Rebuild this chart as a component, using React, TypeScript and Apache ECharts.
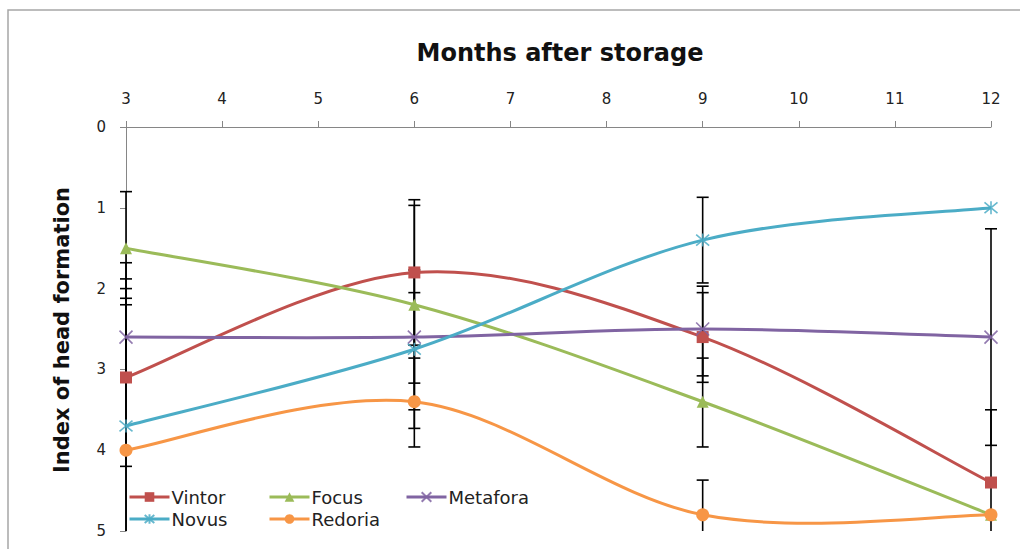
import React, { useEffect, useRef } from "react";
import * as echarts from "echarts";

const months = [3, 6, 9, 12];
const seriesNames = ["Vintor", "Focus", "Metafora", "Novus", "Redoria"];

const vintor = [3.1, 1.8, 2.6, 4.4];
const focus = [1.5, 2.2, 3.4, 4.8];
const metafora = [2.6, 2.6, 2.5, 2.6];
const novus = [3.7, 2.75, 1.4, 1.0];
const redoria = [4.0, 3.4, 4.8, 4.8];

// error bar ends (small end = top in the inverted axis, large end = bottom)
const vintorErrTop = [2.0, 0.9, 2.05, 3.5];
const vintorErrBottom = [4.2, 2.7, 3.16, 5.3];
const focusErrTop = [0.8, 0.97, 2.86, 4.8];
const focusErrBottom = [2.2, 3.5, 3.96, 4.8];
const metaforaErrTop = [2.12, 2.05, 1.97, 1.26];
const metaforaErrBottom = [3.08, 3.17, 3.08, 3.94];
const novusErrTop = [1.68, 1.77, 0.87, 1.0];
const novusErrBottom = [5.72, 3.73, 1.93, 1.0];
const redoriaErrTop = [1.88, 2.86, 4.37, 4.8];
const redoriaErrBottom = [6.12, 3.96, 5.23, 4.8];

const xTicks = [3, 4, 5, 6, 7, 8, 9, 10, 11, 12];
const yTicks = [0, 1, 2, 3, 4, 5];

const colors = ["#C0504D", "#9BBB59", "#8064A2", "#4BACC6", "#F79646"];
const symbols = [
  "rect",
  "triangle",
  "path://M0,0L10,10M10,0L0,10",
  "path://M0,0L10,10M10,0L0,10M5,-1L5,11",
  "circle",
];
const symbolSizes = [12, 12, 13, 13, 13];

const FONT = "DejaVu Sans";

export default function App() {
  const ref = useRef<HTMLDivElement>(null);
  useEffect(() => {
    if (!ref.current) return;
    const chart = echarts.init(ref.current, undefined, { renderer: "svg" });
    const values = [vintor, focus, metafora, novus, redoria];
    const errTop = [vintorErrTop, focusErrTop, metaforaErrTop, novusErrTop, redoriaErrTop];
    const errBottom = [vintorErrBottom, focusErrBottom, metaforaErrBottom, novusErrBottom, redoriaErrBottom];
    const yMin = yTicks[0];
    const yMax = yTicks[yTicks.length - 1];

    const errorSeries = seriesNames.map((name, si) => ({
      type: "custom",
      name: name + " error",
      z: 1,
      silent: true,
      data: months.map((m, i) => [m, errTop[si][i], errBottom[si][i]]),
      encode: { x: 0, y: [1, 2] },
      renderItem: (params: any, api: any) => {
        const x = api.value(0);
        const lo = api.value(1);
        const hi = api.value(2);
        if (hi - lo <= 0) return null;
        const a = api.coord([x, Math.max(lo, yMin)]);
        const b = api.coord([x, Math.min(hi, yMax)]);
        const style = { stroke: "#000", lineWidth: 1.6 };
        const children: any[] = [
          { type: "line", shape: { x1: a[0], y1: a[1], x2: b[0], y2: b[1] }, style },
        ];
        const cw = 6;
        if (lo >= yMin && lo <= yMax) {
          children.push({ type: "line", shape: { x1: a[0] - cw, y1: a[1], x2: a[0] + cw, y2: a[1] }, style });
        }
        if (hi >= yMin && hi <= yMax) {
          children.push({ type: "line", shape: { x1: b[0] - cw, y1: b[1], x2: b[0] + cw, y2: b[1] }, style });
        }
        return { type: "group", children };
      },
    }));

    // smoothed curves (Excel-like cardinal spline) drawn segment by segment through the axes
    const curveSeries = seriesNames.map((name, si) => ({
      type: "custom",
      name: name + " curve",
      z: 2,
      silent: true,
      data: months.map((m, i) => [m, values[si][i]]),
      encode: { x: 0, y: 1 },
      renderItem: (params: any, api: any) => {
        const i = params.dataIndex;
        const n = months.length;
        if (i >= n - 1) return null;
        const pt = (k: number) => {
          const kk = Math.max(0, Math.min(n - 1, k));
          return api.coord([months[kk], values[si][kk]]);
        };
        const p0 = pt(i - 1);
        const p1 = pt(i);
        const p2 = pt(i + 1);
        const p3 = pt(i + 2);
        const t = 6;
        return {
          type: "bezierCurve",
          shape: {
            x1: p1[0],
            y1: p1[1],
            x2: p2[0],
            y2: p2[1],
            cpx1: p1[0] + (p2[0] - p0[0]) / t,
            cpy1: p1[1] + (p2[1] - p0[1]) / t,
            cpx2: p2[0] - (p3[0] - p1[0]) / t,
            cpy2: p2[1] - (p3[1] - p1[1]) / t,
          },
          style: { stroke: colors[si], lineWidth: 3, fill: "none" },
        };
      },
    }));

    const lineSeries = seriesNames.map((name, si) => {
      const isPath = symbols[si].startsWith("path://");
      return {
        type: "line",
        name,
        z: 3,
        data: months.map((m, i) => [m, values[si][i]]),
        symbol: symbols[si],
        symbolSize: symbolSizes[si],
        showAllSymbol: true,
        lineStyle: { color: colors[si], width: 3, opacity: 0 },
        itemStyle: isPath
          ? { color: colors[si], borderColor: colors[si], borderWidth: 1.6, opacity: 0.85 }
          : { color: colors[si], borderColor: colors[si], borderWidth: 0 },
        emphasis: { disabled: true },
      };
    });

    const legendPos = [
      [128, 488],
      [268, 488],
      [405, 488],
      [128, 510],
      [268, 510],
    ];

    chart.setOption({
      animation: false,
      color: colors,
      grid: { left: 126, right: 29, top: 127, bottom: 18 },
      xAxis: {
        type: "value",
        position: "top",
        min: xTicks[0],
        max: xTicks[xTicks.length - 1],
        interval: 1,
        axisLine: { show: true, onZero: false, lineStyle: { color: "#868686", width: 1 } },
        axisTick: { show: true, length: 6, lineStyle: { color: "#868686" } },
        axisLabel: { margin: 21, color: "#222", fontSize: 15, fontFamily: FONT },
        splitLine: { show: false },
      },
      yAxis: {
        type: "value",
        inverse: true,
        min: yMin,
        max: yMax,
        interval: 1,
        axisLine: { show: true, onZero: false, lineStyle: { color: "#868686", width: 1 } },
        axisTick: { show: true, length: 6, lineStyle: { color: "#868686" } },
        axisLabel: { margin: 20, color: "#222", fontSize: 15, fontFamily: FONT },
        splitLine: { show: false },
      },
      legend: seriesNames.map((name, i) => ({
        data: [name],
        left: legendPos[i][0],
        top: legendPos[i][1],
        padding: 0,
        itemWidth: 40,
        itemHeight: 12,
        itemGap: 0,
        selectedMode: false,
        lineStyle: { opacity: 1, width: 3 },
        textStyle: { fontSize: 18, color: "#222", fontFamily: FONT, padding: [0, 0, 0, -3] },
      })),
      graphic: [
        {
          type: "rect",
          silent: true,
          shape: { x: 8, y: 10, width: 1040, height: 580 },
          style: { fill: "none", stroke: "#a6a6a6", lineWidth: 1.5 },
        },
        {
          type: "text",
          x: 560,
          y: 53,
          style: {
            text: "Months after storage",
            fontSize: 24,
            fontWeight: "bold",
            fontFamily: FONT,
            fill: "#111",
            textAlign: "center",
            textVerticalAlign: "middle",
          },
        },
        {
          type: "text",
          x: 62,
          y: 330,
          rotation: Math.PI / 2,
          style: {
            text: "Index of head formation",
            fontSize: 21,
            fontWeight: "bold",
            fontFamily: FONT,
            fill: "#111",
            textAlign: "center",
            textVerticalAlign: "middle",
          },
        },
      ],
      series: [...errorSeries, ...curveSeries, ...lineSeries],
    });
    return () => chart.dispose();
  }, []);
  return (
    <div
      ref={ref}
      style={{ position: "fixed", left: 0, top: 0, width: 1020, height: 549, background: "#fff" }}
    />
  );
}
